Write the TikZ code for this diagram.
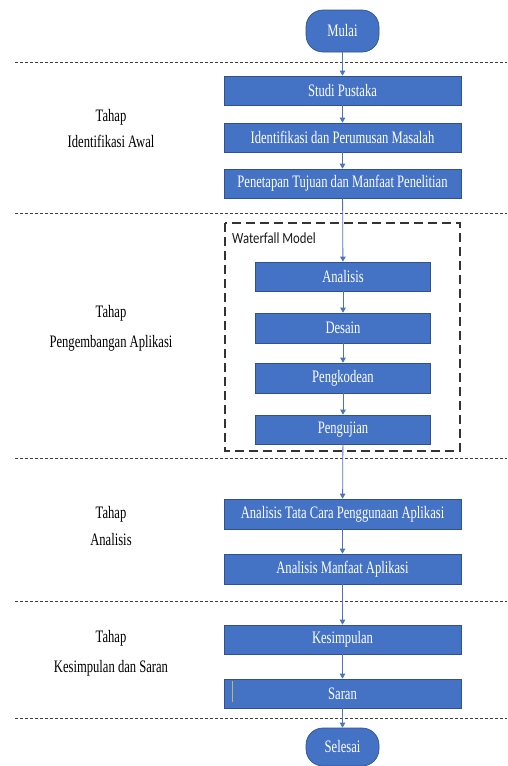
\documentclass[tikz,border=0pt]{standalone}
\usepackage{fontspec}
\usepackage{graphicx}
\usetikzlibrary{arrows.meta}
\setmainfont{Liberation Serif}
\newfontfamily\framefont{Carlito}
% narrow set text, as printed in the flowchart
\newcommand\narrowtext[1]{\scalebox{0.72}[1]{#1}}
\definecolor{boxblue}{HTML}{4472C4}
\definecolor{boxedge}{HTML}{2F528F}
\definecolor{flowarrow}{HTML}{4A74BC}
\definecolor{cursorline}{HTML}{C8B45A}
\tikzset{
  stepbox/.style={rectangle, fill=boxblue, draw=boxedge, line width=0.7pt,
    text=white, inner sep=0pt, minimum width=237pt, minimum height=29pt,
    font=\fontsize{17.5}{19}\selectfont},
  innerbox/.style={stepbox, minimum width=175pt},
  terminal/.style={stepbox, minimum width=73pt, rounded corners=17pt},
  flow/.style={draw=flowarrow, line width=0.8pt,
    -{Triangle[width=5.5pt,length=5pt]}},
  phaseline/.style={draw=black!75, line width=0.8pt, dash pattern=on 3pt off 2pt},
  phaselabel/.style={anchor=base, text=black, font=\fontsize{17.5}{19}\selectfont},
  modelframe/.style={draw=black!80, line width=1.2pt, dash pattern=on 9pt off 5pt}
}
\begin{document}
\begin{tikzpicture}[x=1pt, y=-1pt]
\useasboundingbox (0,0) rectangle (507,766);

% phase separators
\foreach \yy in {62,213,458,601,718}
  \draw[phaseline] (15,\yy) -- (507,\yy);

% waterfall frame
\draw[modelframe] (225,223) rectangle (460,451);
\node[anchor=base west, inner sep=0pt, text=black!90,
      font=\framefont\fontsize{15.5}{17}\selectfont] (wflabel) at (232,243) {\scalebox{0.82}[1]{Waterfall Model}};

% flow nodes
\node[terminal, minimum height=42pt] (mulai) at (342.5,31) {\narrowtext{Mulai}};
\node[stepbox] (studi) at (342.5,90.5) {\narrowtext{Studi Pustaka}};
\node[stepbox] (ident) at (342.5,137.5) {\narrowtext{Identifikasi dan Perumusan Masalah}};
\node[stepbox] (tujuan) at (342.5,183.5) {\narrowtext{Penetapan Tujuan dan Manfaat Penelitian}};
\node[innerbox] (analisis) at (343,276.5) {\narrowtext{Analisis}};
\node[innerbox, minimum height=30pt] (desain) at (343,328) {\narrowtext{Desain}};
\node[innerbox, minimum height=30pt] (kode) at (343,378) {\narrowtext{Pengkodean}};
\node[innerbox] (uji) at (343,429.5) {\narrowtext{Pengujian}};
\node[stepbox, minimum height=30pt] (tatacara) at (342.5,514) {\narrowtext{Analisis Tata Cara Penggunaan Aplikasi}};
\node[stepbox, minimum height=30pt] (manfaat) at (342.5,569) {\narrowtext{Analisis Manfaat Aplikasi}};
\node[stepbox] (simpul) at (342.5,639.5) {\narrowtext{Kesimpulan}};
\node[stepbox] (saran) at (342.5,693.5) {\narrowtext{Saran}};
\node[terminal, minimum height=38pt] (selesai) at (342.5,747) {\narrowtext{Selesai}};

% small mark inside the last box
\draw[cursorline, line width=0.6pt] ([xshift=9pt,yshift=13pt]saran.west) -- ([xshift=9pt,yshift=-8pt]saran.west);

% connectors
\draw[flow] (mulai) -- (studi);
\draw[flow] (studi) -- (ident);
\draw[flow] (ident) -- (tujuan);
\draw[flow] (tujuan) -- (analisis);
\draw[flow] (analisis) -- (desain);
\draw[flow] (desain) -- (kode);
\draw[flow] (kode) -- (uji);
\draw[flow] (uji) -- (tatacara);
\draw[flow] (tatacara) -- (manfaat);
\draw[flow] (manfaat) -- (simpul);
\draw[flow] (simpul) -- (saran);
\draw[flow] (saran) -- (selesai);

% phase labels
\node[phaselabel] (p1a) at (111,121) {\narrowtext{Tahap}};
\node[phaselabel] (p1b) at (111,147) {\narrowtext{Identifikasi Awal}};
\node[phaselabel] (p2a) at (111,317) {\narrowtext{Tahap}};
\node[phaselabel] (p2b) at (111,347) {\narrowtext{Pengembangan Aplikasi}};
\node[phaselabel] (p3a) at (111,518) {\narrowtext{Tahap}};
\node[phaselabel] (p3b) at (111,545) {\narrowtext{Analisis}};
\node[phaselabel] (p4a) at (111,642) {\narrowtext{Tahap}};
\node[phaselabel] (p4b) at (111,672) {\narrowtext{Kesimpulan dan Saran}};
\end{tikzpicture}
\end{document}
